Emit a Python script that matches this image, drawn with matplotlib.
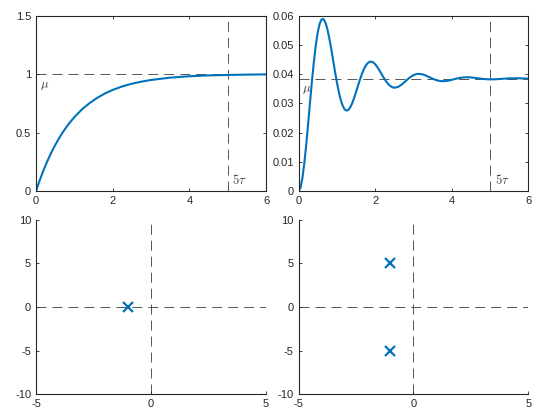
import matplotlib
matplotlib.use("Agg")
import matplotlib.pyplot as plt

# values
t1 = [0, 0.1, 0.2, 0.3, 0.4, 0.5, 0.6, 0.7, 0.8, 0.9, 1.0, 1.2, 1.4, 1.6, 1.8,
      2.0, 2.25, 2.5, 2.75, 3.0, 3.5, 4.0, 4.5, 5.0, 5.5, 6.0]
y1 = [0, 0.095, 0.181, 0.259, 0.330, 0.393, 0.451, 0.503, 0.551, 0.593, 0.632,
      0.699, 0.753, 0.798, 0.835, 0.865, 0.895, 0.918, 0.936, 0.950, 0.970,
      0.982, 0.989, 0.993, 0.996, 0.998]

t2 = [0, 0.05, 0.1, 0.15, 0.2, 0.25, 0.3, 0.35, 0.4, 0.45, 0.5, 0.55, 0.6, 0.65,
      0.7, 0.75, 0.8, 0.85, 0.9, 0.95, 1.0, 1.05, 1.1, 1.15, 1.2, 1.25, 1.3,
      1.35, 1.4, 1.45, 1.5, 1.55, 1.6, 1.65, 1.7, 1.75, 1.8, 1.85, 1.9, 1.95,
      2.0, 2.05, 2.1, 2.15, 2.2, 2.25, 2.3, 2.35, 2.4, 2.45, 2.5, 2.6, 2.7,
      2.8, 2.9, 3.0, 3.1, 3.2, 3.3, 3.4, 3.5, 3.6, 3.7, 3.8, 3.9, 4.0, 4.1,
      4.2, 4.3, 4.4, 4.5, 4.6, 4.7, 4.8, 4.9, 5.0, 5.1, 5.2, 5.3, 5.4, 5.5,
      5.6, 5.7, 5.8, 5.9, 6.0]
y2 = [0, 0.00120, 0.00458, 0.00973, 0.01615, 0.02333, 0.03076, 0.03796,
      0.04450, 0.05005, 0.05436, 0.05728, 0.05876, 0.05886, 0.05769, 0.05545,
      0.05237, 0.04874, 0.04482, 0.04088, 0.03716, 0.03388, 0.03120, 0.02921,
      0.02799, 0.02752, 0.02777, 0.02866, 0.03007, 0.03187, 0.03388, 0.03599,
      0.03806, 0.03995, 0.04157, 0.04285, 0.04373, 0.04421, 0.04429, 0.04400,
      0.04340, 0.04255, 0.04153, 0.04042, 0.03930, 0.03823, 0.03727, 0.03648,
      0.03589, 0.03551, 0.03535, 0.03563, 0.03651, 0.03768, 0.03882, 0.03967,
      0.04009, 0.04005, 0.03966, 0.03906, 0.03843, 0.03793, 0.03763, 0.03759,
      0.03775, 0.03805, 0.03839, 0.03868, 0.03887, 0.03894, 0.03888, 0.03873,
      0.03855, 0.03839, 0.03827, 0.03821, 0.03823, 0.03829, 0.03839, 0.03848,
      0.03855, 0.03859, 0.03859, 0.03856, 0.03852, 0.03847]

mu1, mu2 = 1.0, 0.03846
t_settle = 5.0

poles1_re, poles1_im = [-1], [0]
poles2_re, poles2_im = [-1, -1], [5, -5]

blue = "#0072BD"
axcol = "#262626"
refcol = "#3a3a3a"
dash = (7.2, 4.3)

plt.rcParams["font.family"] = ["Liberation Sans", "DejaVu Sans"]
plt.rcParams["mathtext.fontset"] = "cm"
plt.rcParams["lines.scale_dashes"] = False
plt.rcParams["axes.unicode_minus"] = False

fig = plt.figure(figsize=(5.6, 4.2), dpi=100)
ax_tl = fig.add_axes([0.0643, 0.5452, 0.4107, 0.4174])
ax_tr = fig.add_axes([0.5333, 0.5452, 0.4100, 0.4174])
ax_bl = fig.add_axes([0.0643, 0.0612, 0.4107, 0.4157])
ax_br = fig.add_axes([0.5333, 0.0612, 0.4100, 0.4157])


def style(ax, box):
    for s in ax.spines.values():
        s.set_color(axcol)
        s.set_linewidth(0.8)
    if not box:
        ax.spines["top"].set_visible(False)
        ax.spines["right"].set_visible(False)
    ax.tick_params(direction="in", length=2.5, width=0.6, colors=axcol,
                   labelsize=8, pad=3.5, top=box, right=box)


def ref(ax, x, y):
    ax.plot(x, y, color=refcol, lw=0.6, dashes=dash, zorder=1)


# step responses
for ax, t, y, mu, ymax, yt, ylab, tau_y in [
        (ax_tl, t1, y1, mu1, 1.5, [0, 0.5, 1, 1.5], ["0", "0.5", "1", "1.5"], 0.09),
        (ax_tr, t2, y2, mu2, 0.06, [0, 0.01, 0.02, 0.03, 0.04, 0.05, 0.06],
         ["0", "0.01", "0.02", "0.03", "0.04", "0.05", "0.06"], 0.0036)]:
    ref(ax, [0, 6], [mu, mu])
    ref(ax, [t_settle, t_settle], [0, ymax])
    ax.plot(t, y, color=blue, lw=1.5, zorder=2)
    ax.text(0.1, 0.9 * mu, r"$\mu$", color=refcol, fontsize=9, va="center", zorder=1)
    ax.text(t_settle + 0.12, tau_y, r"$5\tau$", color=refcol, fontsize=9, va="center", zorder=1)
    ax.set_xlim(0, 6)
    ax.set_ylim(0, ymax)
    ax.set_xticks([0, 2, 4, 6])
    ax.set_yticks(yt)
    ax.set_yticklabels(ylab)
    style(ax, True)

# pole maps
for ax, pr, pi in [(ax_bl, poles1_re, poles1_im), (ax_br, poles2_re, poles2_im)]:
    ref(ax, [-5, 5], [0, 0])
    ref(ax, [0, 0], [-10, 10])
    ax.plot(pr, pi, "x", color=blue, ms=6.5, mew=1.6, zorder=3)
    ax.set_xlim(-5, 5)
    ax.set_ylim(-10, 10)
    ax.set_xticks([-5, 0, 5])
    ax.set_yticks([-10, -5, 0, 5, 10])
    style(ax, False)

fig.savefig("out.png", dpi=100)
